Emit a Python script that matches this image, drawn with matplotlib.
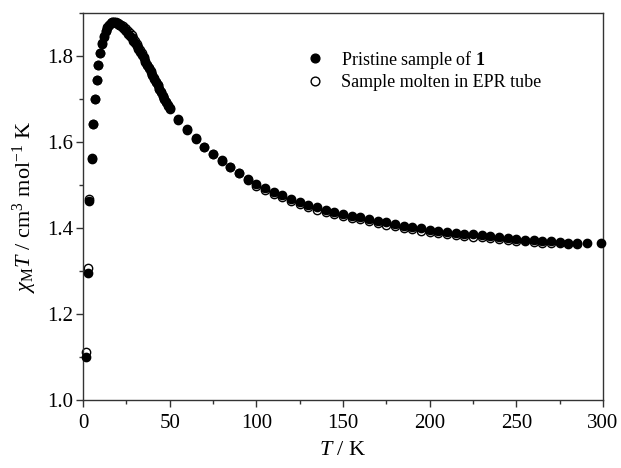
import matplotlib
matplotlib.use("Agg")
import matplotlib.pyplot as plt
from matplotlib.ticker import MultipleLocator

# ---------- Data ----------
# Pristine sample of 1 (filled circles)
T_pristine = [2.0, 2.6, 3.6, 5.0, 6.0, 6.8, 7.8, 8.8, 9.7,
              11, 12, 13, 14, 15, 16, 17, 18, 19, 20,
              21, 22, 23, 24, 25, 26, 27, 28, 29, 30,
              31, 32, 33, 34, 35, 36, 37, 38, 39, 40,
              41, 42, 43, 44, 45, 46, 47, 48, 49, 50,
              55, 60, 65, 70, 75, 80, 85, 90, 95, 100,
              105, 110, 115, 120, 125, 130, 135, 140, 145, 150,
              155, 160, 165, 170, 175, 180, 185, 190, 195, 200,
              205, 210, 215, 220, 225, 230, 235, 240, 245, 250,
              255, 260, 265, 270, 275, 280, 285, 291, 299]
chiT_pristine = [1.100, 1.296, 1.463, 1.560, 1.641, 1.699, 1.744, 1.778, 1.806,
                 1.829, 1.845, 1.857, 1.866, 1.872, 1.876, 1.878, 1.878, 1.877, 1.875,
                 1.872, 1.869, 1.865, 1.861, 1.857, 1.852, 1.847, 1.842, 1.836, 1.830,
                 1.823, 1.816, 1.809, 1.802, 1.795, 1.787, 1.779, 1.771, 1.763, 1.755,
                 1.747, 1.740, 1.732, 1.724, 1.716, 1.708, 1.700, 1.693, 1.685, 1.678,
                 1.653, 1.630, 1.609, 1.589, 1.572, 1.557, 1.543, 1.529, 1.515, 1.503,
                 1.493, 1.483, 1.476, 1.468, 1.461, 1.454, 1.448, 1.443, 1.438, 1.433,
                 1.429, 1.425, 1.421, 1.417, 1.413, 1.409, 1.405, 1.402, 1.399, 1.396,
                 1.393, 1.391, 1.389, 1.387, 1.385, 1.383, 1.381, 1.379, 1.377, 1.375,
                 1.373, 1.372, 1.370, 1.369, 1.367, 1.366, 1.365, 1.364, 1.364]

# Sample molten in EPR tube (open circles)
T_molten = [2.0, 2.6, 3.6, 5.0, 6.0, 6.8, 7.8, 8.8, 9.7,
            11, 12, 13, 14, 15, 16, 17, 18, 19, 20,
            21, 22, 23, 24, 25, 26, 27, 28, 29, 30,
            31, 32, 33, 34, 35, 36, 37, 38, 39, 40,
            41, 42, 43, 44, 45, 46, 47, 48, 49, 50,
            55, 60, 65, 70, 75, 80, 85, 90, 95, 100,
            105, 110, 115, 120, 125, 130, 135, 140, 145, 150,
            155, 160, 165, 170, 175, 180, 185, 190, 195, 200,
            205, 210, 215, 220, 225, 230, 235, 240, 245, 250,
            255, 260, 265, 270, 275, 280, 285]
chiT_molten = [1.112, 1.306, 1.468, 1.562, 1.642, 1.700, 1.745, 1.779, 1.807,
               1.830, 1.846, 1.858, 1.867, 1.873, 1.877, 1.879, 1.879, 1.878, 1.877,
               1.875, 1.872, 1.869, 1.866, 1.862, 1.858, 1.853, 1.848, 1.842, 1.836,
               1.829, 1.822, 1.814, 1.806, 1.798, 1.789, 1.780, 1.772, 1.764, 1.756,
               1.748, 1.740, 1.732, 1.724, 1.716, 1.708, 1.700, 1.692, 1.684, 1.677,
               1.652, 1.629, 1.608, 1.588, 1.571, 1.556, 1.541, 1.527, 1.512, 1.498,
               1.488, 1.478, 1.471, 1.463, 1.456, 1.449, 1.443, 1.438, 1.433, 1.428,
               1.424, 1.420, 1.416, 1.412, 1.408, 1.404, 1.400, 1.397, 1.394, 1.391,
               1.388, 1.386, 1.384, 1.382, 1.380, 1.378, 1.376, 1.374, 1.372, 1.370,
               1.369, 1.368, 1.366, 1.365, 1.364, 1.363, 1.363]

# ---------- Style ----------
plt.rcParams['font.family'] = ['Liberation Serif', 'DejaVu Serif']
plt.rcParams['mathtext.fontset'] = 'custom'
plt.rcParams['mathtext.rm'] = 'Liberation Serif'
plt.rcParams['mathtext.it'] = 'Liberation Serif:italic'
plt.rcParams['mathtext.bf'] = 'Liberation Serif:bold'

fig = plt.figure(figsize=(6.21, 4.68), dpi=100)
ax = fig.add_axes([0.1337, 0.1453, 0.8373, 0.8269])

ax.plot(T_molten, chiT_molten, linestyle='none', marker='o', markersize=6,
        markerfacecolor='white', markeredgecolor='black', markeredgewidth=1.0,
        label='Sample molten in EPR tube', zorder=2, clip_on=False)
ax.plot(T_pristine, chiT_pristine, linestyle='none', marker='o', markersize=6,
        markerfacecolor='black', markeredgecolor='black',
        label=r'Pristine sample of $\mathbf{1}$', zorder=3, clip_on=False)

ax.set_xlim(0, 300)
ax.set_ylim(1.0, 1.9)
ax.xaxis.set_major_locator(MultipleLocator(50))
ax.xaxis.set_minor_locator(MultipleLocator(25))
ax.yaxis.set_major_locator(MultipleLocator(0.2))
ax.yaxis.set_minor_locator(MultipleLocator(0.1))
ax.yaxis.set_major_formatter(plt.FormatStrFormatter('%.1f'))
ax.tick_params(which='both', direction='out', top=False, right=False,
               labelsize=15, color='#333333')
ax.tick_params(which='major', length=5, width=1, pad=2)
ax.tick_params(which='minor', length=3, width=1)
ax.tick_params(axis='x', which='major', pad=5)
for sp in ax.spines.values():
    sp.set_color('#333333')
    sp.set_linewidth(1.0)

ax.set_xlabel(r'$T$ / K', fontsize=16, labelpad=6)
ax.set_ylabel(r'$\chi_{\mathrm{M}}T$ / cm$^3$ mol$^{-1}$ K', fontsize=16, labelpad=6)

handles, labels = ax.get_legend_handles_labels()
ax.legend(handles[::-1], labels[::-1], loc='upper left',
          bbox_to_anchor=(0.398, 0.95), frameon=False, fontsize=13,
          handletextpad=0.9, labelspacing=0.2, handlelength=1.0,
          markerscale=1.05)

fig.savefig('out.png', dpi=100)
